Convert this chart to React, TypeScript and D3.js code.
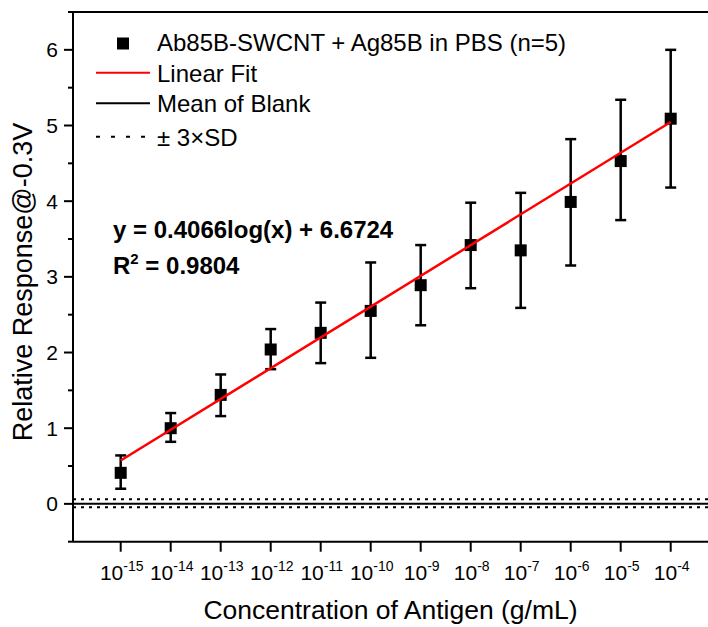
import React from "react";
import * as d3 from "d3";

const exponents = [-15, -14, -13, -12, -11, -10, -9, -8, -7, -6, -5, -4];
const means = [0.41, 1.0, 1.44, 2.04, 2.26, 2.55, 2.89, 3.42, 3.35, 3.99, 4.53, 5.09];
const lows = [0.2, 0.82, 1.16, 1.78, 1.86, 1.93, 2.36, 2.85, 2.59, 3.15, 3.75, 4.18];
const highs = [0.64, 1.2, 1.71, 2.31, 2.66, 3.19, 3.42, 3.98, 4.11, 4.82, 5.34, 6.0];
const fitSlope = 0.4066;
const fitIntercept = 6.6724;
const blankMean = 0;
const blankUpper = 0.06;
const blankLower = -0.045;
const yMajorTicks = [0, 1, 2, 3, 4, 5, 6];
const yMinorTicks = [-0.5, 0.5, 1.5, 2.5, 3.5, 4.5, 5.5, 6.5];
const legendLabels = [
  "Ab85B-SWCNT + Ag85B in PBS (n=5)",
  "Linear Fit",
  "Mean of Blank",
  "\u00B1 3\u00D7SD",
];

const W = 708;
const H = 627;
const FONT = "'Liberation Sans', Arial, Helvetica, sans-serif";

export default function App() {
  const left = 73;
  const top = 12;
  const bottom = 541.7;
  const right = 730;
  const x = d3.scaleLinear().domain([-15, -4]).range([120.7, 670.7]);
  const y = d3.scaleLinear().domain([-0.5, 6.5]).range([bottom, top]);
  const fitLine = d3
    .line<number>()
    .x((e) => x(e))
    .y((e) => y(fitSlope * e + fitIntercept));
  const ms = 12;
  const cap = 5.5;

  return (
    <svg
      width={W}
      height={H}
      style={{ position: "absolute", left: 0, top: 0, background: "#fff" }}
      fontFamily={FONT}
    >
      <rect x={0} y={0} width={W} height={H} fill="#fff" />
      {/* blank lines */}
      <line x1={left} x2={right} y1={y(blankMean)} y2={y(blankMean)} stroke="#000" strokeWidth={2} />
      <line x1={left} x2={right} y1={y(blankUpper)} y2={y(blankUpper)} stroke="#000" strokeWidth={2} strokeDasharray="3,5" />
      <line x1={left} x2={right} y1={y(blankLower)} y2={y(blankLower)} stroke="#000" strokeWidth={2} strokeDasharray="3,5" />

      {/* error bars */}
      {exponents.map((e, i) => (
        <g key={"eb" + i} stroke="#000" strokeWidth={2.5}>
          <line x1={x(e)} x2={x(e)} y1={y(lows[i])} y2={y(highs[i])} />
          <line x1={x(e) - cap} x2={x(e) + cap} y1={y(lows[i])} y2={y(lows[i])} />
          <line x1={x(e) - cap} x2={x(e) + cap} y1={y(highs[i])} y2={y(highs[i])} />
        </g>
      ))}
      {/* markers */}
      {exponents.map((e, i) => (
        <rect key={"m" + i} x={x(e) - ms / 2} y={y(means[i]) - ms / 2} width={ms} height={ms} fill="#000" />
      ))}
      {/* fit line */}
      <path d={fitLine([exponents[0], exponents[exponents.length - 1]]) || ""} stroke="#ff0000" strokeWidth={2.5} fill="none" />

      {/* axes frame */}
      <line x1={left} x2={left} y1={top} y2={bottom} stroke="#000" strokeWidth={2} />
      <line x1={left} x2={right} y1={top} y2={top} stroke="#000" strokeWidth={2} />
      <line x1={left} x2={right} y1={bottom} y2={bottom} stroke="#000" strokeWidth={2} />

      {/* y ticks */}
      {yMajorTicks.map((t) => (
        <g key={"yt" + t}>
          <line x1={left - 9} x2={left} y1={y(t)} y2={y(t)} stroke="#000" strokeWidth={2} />
          <text x={left - 15} y={y(t)} dy="0.36em" textAnchor="end" fontSize={21} fill="#000">
            {t}
          </text>
        </g>
      ))}
      {yMinorTicks.map((t) => (
        <line key={"ym" + t} x1={left - 5} x2={left} y1={y(t)} y2={y(t)} stroke="#000" strokeWidth={2} />
      ))}

      {/* x ticks */}
      {exponents.map((e) => (
        <g key={"xt" + e}>
          <line x1={x(e)} x2={x(e)} y1={bottom} y2={bottom + 10} stroke="#000" strokeWidth={2} />
          <text x={x(e) + 1} y={580} textAnchor="middle" fontSize={21} fill="#000">
            10
            <tspan fontSize={14} dy={-9}>
              {e}
            </tspan>
          </text>
        </g>
      ))}

      {/* axis titles */}
      <text x={(left + 708) / 2} y={619} textAnchor="middle" fontSize={26.5} fill="#000">
        Concentration of Antigen (g/mL)
      </text>
      <text
        transform={`translate(32, 282) rotate(-90)`}
        textAnchor="middle"
        fontSize={27}
        fill="#000"
      >
        Relative Response@-0.3V
      </text>

      {/* legend */}
      <rect x={123 - ms / 2} y={43.5 - ms / 2} width={ms} height={ms} fill="#000" />
      <line x1={96} x2={150} y1={72.7} y2={72.7} stroke="#ff0000" strokeWidth={2} />
      <line x1={96} x2={150} y1={103.3} y2={103.3} stroke="#000" strokeWidth={2} />
      <line x1={96} x2={150} y1={136.7} y2={136.7} stroke="#000" strokeWidth={2} strokeDasharray="4,11" />
      {legendLabels.map((l, i) => (
        <text key={"lg" + i} x={157} y={[51, 82, 112, 146][i]} fontSize={24} fill="#000">
          {l}
        </text>
      ))}

      {/* equation */}
      <text x={113} y={238} fontSize={24} fontWeight="bold" fill="#000">
        y = 0.4066log(x) + 6.6724
      </text>
      <text x={113} y={274} fontSize={24} fontWeight="bold" fill="#000">
        R<tspan fontSize={15} dy={-10}>2</tspan>
        <tspan dy={10}> = 0.9804</tspan>
      </text>
    </svg>
  );
}
